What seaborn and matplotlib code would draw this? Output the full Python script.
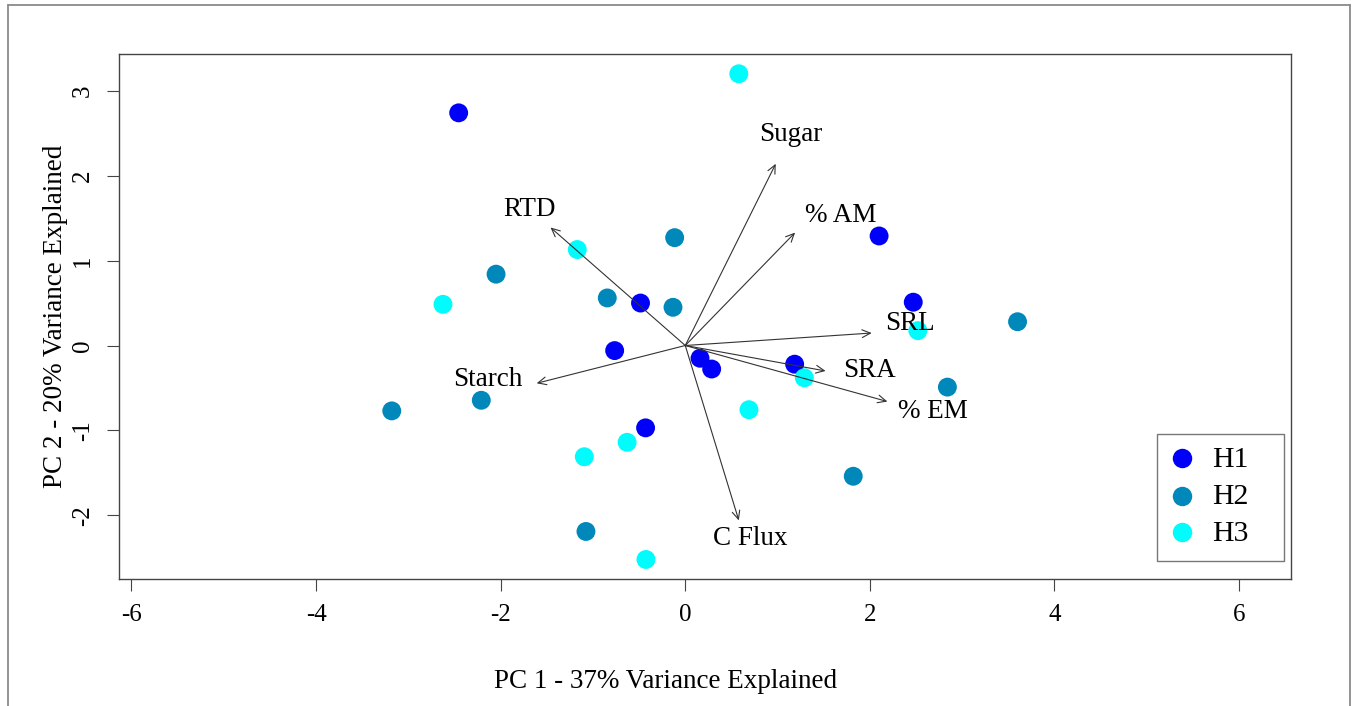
import numpy as np
import pandas as pd
import matplotlib
matplotlib.use("Agg")
import matplotlib.pyplot as plt
from matplotlib.lines import Line2D
from matplotlib.patches import Rectangle
import seaborn as sns

# PCA scores per sample, grouped by horizon
h1_pc1 = [-2.455, 2.10, 2.47, -0.485, -0.765, 0.16, 0.286, 1.185, -0.43]
h1_pc2 = [2.74, 1.29, 0.51, 0.50, -0.06, -0.15, -0.277, -0.22, -0.97]
h2_pc1 = [-0.115, -2.05, -0.845, -0.133, 3.60, 2.84, -2.21, -3.18, 1.82, -1.076]
h2_pc2 = [1.27, 0.84, 0.56, 0.45, 0.28, -0.49, -0.645, -0.77, -1.54, -2.19]
h3_pc1 = [0.58, -1.17, -2.625, 2.52, 1.29, 0.69, -0.63, -1.094, -0.426]
h3_pc2 = [3.20, 1.13, 0.485, 0.175, -0.38, -0.756, -1.14, -1.31, -2.52]

horizons = ["H1", "H2", "H3"]
horizon_colors = ["#0000F8", "#0088BA", "#00FCFC"]

# variable loadings (arrow tips) and their label anchors
variables = ["Sugar", "% AM", "RTD", "SRL", "SRA", "% EM", "Starch", "C Flux"]
load_pc1 = [0.98, 1.19, -1.46, 2.02, 1.52, 2.19, -1.61, 0.58]
load_pc2 = [2.14, 1.33, 1.39, 0.147, -0.30, -0.66, -0.445, -2.06]
label_pc1 = [1.14, 1.685, -1.69, 2.43, 2.00, 2.68, -2.14, 0.70]
label_pc2 = [2.48, 1.53, 1.60, 0.26, -0.30, -0.78, -0.40, -2.27]

x_ticks = [-6, -4, -2, 0, 2, 4, 6]
y_ticks = [-2, -1, 0, 1, 2, 3]
x_title = "PC 1 - 37% Variance Explained"
y_title = "PC 2 - 20% Variance Explained"

df = pd.DataFrame({
    "pc1": h1_pc1 + h2_pc1 + h3_pc1,
    "pc2": h1_pc2 + h2_pc2 + h3_pc2,
    "horizon": ["H1"] * len(h1_pc1) + ["H2"] * len(h2_pc1) + ["H3"] * len(h3_pc1),
})

sns.set_style("white")
plt.rcParams["font.family"] = ["Liberation Serif", "DejaVu Serif"]
plt.rcParams["axes.unicode_minus"] = False
plt.rcParams["text.color"] = "black"

W, H = 1357, 706
fig = plt.figure(figsize=(W / 100, H / 100), dpi=100)
ax_l, ax_r, ax_t, ax_b = 119.2, 1291.4, 54.0, 578.5
ax = fig.add_axes([ax_l / W, 1 - ax_b / H, (ax_r - ax_l) / W, (ax_b - ax_t) / H])

palette = dict(zip(horizons, horizon_colors))
sns.scatterplot(data=df, x="pc1", y="pc2", hue="horizon", hue_order=horizons,
                palette=palette, s=185, linewidth=0, legend=False, ax=ax, zorder=2)

# loading arrows from the origin
for name, lx, ly, tx, ty in zip(variables, load_pc1, load_pc2, label_pc1, label_pc2):
    ax.annotate("", xy=(lx, ly), xytext=(0, 0),
                arrowprops=dict(arrowstyle="->,head_length=0.6,head_width=0.28",
                                color="#333333", lw=0.8, shrinkA=0, shrinkB=0),
                zorder=3)
    ax.text(tx, ty, name, ha="center", va="center", fontsize=19.5,
            color="black", zorder=4)

ax.set_xlim(-6.133, 6.567)
ax.set_ylim(-2.744, 3.433)
ax.set_xticks(x_ticks)
ax.set_xticklabels([str(v) for v in x_ticks])
ax.set_yticks(y_ticks)
ax.set_yticklabels([str(v) for v in y_ticks], rotation=90, va="center")
ax.tick_params(axis="both", direction="out", length=8.6, width=0.8, color="#444444",
               labelsize=18, labelcolor="black", pad=9.8, bottom=True, left=True)
ax.set_xlabel("")
ax.set_ylabel("")
for sp in ax.spines.values():
    sp.set_color("#444444")
    sp.set_linewidth(1.0)

fig.text(666 / W, 1 - 681 / H, x_title, ha="center", va="center", fontsize=19.5,
         color="black")
fig.text(56 / W, 1 - 316 / H, y_title, ha="center", va="center", fontsize=19.5,
         rotation=90, color="black")

# legend box, drawn in pixel space of the axes
def ax_frac(px, py):
    return (px - ax_l) / (ax_r - ax_l), (ax_b - py) / (ax_b - ax_t)

bx0, by0 = ax_frac(1156.7, 560.7)
bx1, by1 = ax_frac(1284.0, 434.3)
ax.add_patch(Rectangle((bx0, by0), bx1 - bx0, by1 - by0, transform=ax.transAxes,
                       facecolor="white", edgecolor="#777777", lw=1.0, zorder=5))
for name, color, row in zip(horizons, horizon_colors, [458.3, 495.7, 532.3]):
    mx, my = ax_frac(1181.7, row)
    ax.add_line(Line2D([mx], [my], marker="o", ls="", markersize=14,
                       markerfacecolor=color, markeredgewidth=0,
                       transform=ax.transAxes, zorder=6))
    tx, ty = ax_frac(1212.5, row + 1.5)
    ax.text(tx, ty, name, transform=ax.transAxes, ha="left", va="center",
            fontsize=21.5, color="black", zorder=6)

# outer frame around the figure
frame_kw = dict(transform=fig.transFigure, color="#8a8a8a", lw=1.3)
fig.add_artist(Line2D([8 / W, 8 / W], [0, 1 - 5 / H], **frame_kw))
fig.add_artist(Line2D([8 / W, 1350 / W], [1 - 5 / H, 1 - 5 / H], **frame_kw))
fig.add_artist(Line2D([1350 / W, 1350 / W], [0, 1 - 5 / H], **frame_kw))

fig.savefig("out.png", dpi=100, facecolor="white")
